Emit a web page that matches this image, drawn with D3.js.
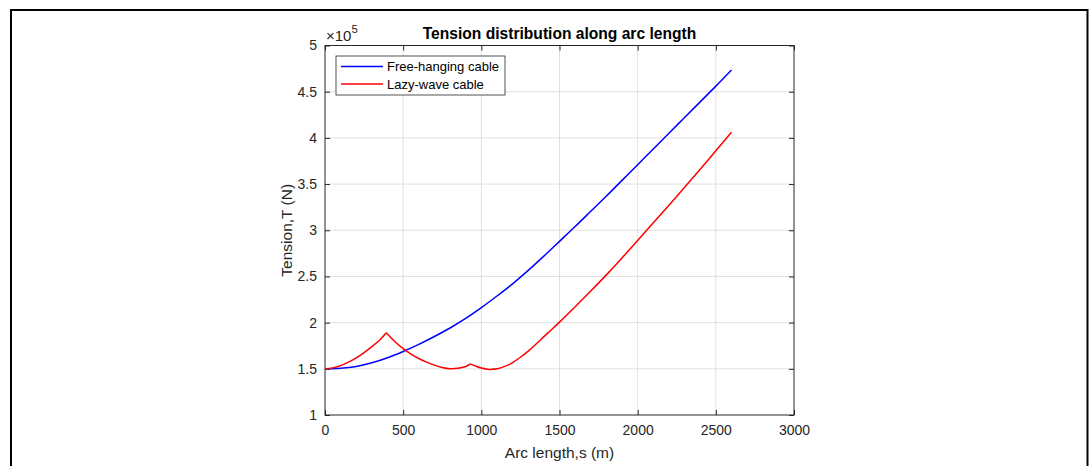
<!DOCTYPE html>
<html>
<head>
<meta charset="utf-8">
<script src="https://cdn.jsdelivr.net/npm/d3@7"></script>
<style>
  body { margin: 0; background: #fff; }
  svg { display: block; font-family: "Liberation Sans", Arial, sans-serif; }
</style>
</head>
<body>
<div id="chart"></div>
<script>
// valores (T em unidades de 1e5 N)
const arcFree = [0, 100, 200, 300, 400, 500, 600, 700, 800, 900, 1000, 1100, 1200, 1300,
  1400, 1500, 1600, 1700, 1800, 1900, 2000, 2100, 2200, 2300, 2400, 2500, 2600];
const tensionFree = [1.500, 1.506, 1.526, 1.565, 1.620, 1.688, 1.765, 1.850, 1.942, 2.045,
  2.162, 2.288, 2.420, 2.565, 2.720, 2.880, 3.040, 3.205, 3.370, 3.540, 3.710, 3.880,
  4.050, 4.220, 4.390, 4.560, 4.735];

const arcLazy = [0, 50, 100, 150, 200, 250, 300, 350, 392, 450, 500, 550, 600, 650, 700, 750,
  800, 850, 900, 930, 960, 1000, 1040, 1066, 1100, 1150, 1200, 1250, 1300, 1350, 1400, 1450,
  1500, 1600, 1700, 1800, 1900, 2000, 2100, 2200, 2300, 2400, 2500, 2600];
const tensionLazy = [1.500, 1.510, 1.535, 1.573, 1.618, 1.675, 1.740, 1.812, 1.891, 1.790,
  1.718, 1.660, 1.612, 1.572, 1.540, 1.515, 1.501, 1.505, 1.525, 1.553, 1.532, 1.508, 1.496,
  1.494, 1.500, 1.526, 1.568, 1.625, 1.692, 1.768, 1.848, 1.925, 2.005, 2.172, 2.342, 2.517,
  2.700, 2.890, 3.080, 3.270, 3.465, 3.660, 3.860, 4.060];
// pontos de quebra (picos) da curva lazy-wave
const lazyKinks = [392, 930];

const xTicks = [0, 500, 1000, 1500, 2000, 2500, 3000];
const yTicks = [1, 1.5, 2, 2.5, 3, 3.5, 4, 4.5, 5];
const seriesNames = ["Free-hanging cable", "Lazy-wave cable"];

const width = 1091, height = 466;
const margin = { left: 325, right: 297, top: 45.5, bottom: 51 };
const iw = width - margin.left - margin.right;
const ih = height - margin.top - margin.bottom;

const svg = d3.select("#chart").append("svg")
  .attr("width", width).attr("height", height);

// moldura externa
svg.append("path")
  .attr("d", `M11,${height + 5} L11,10 L1087.5,10 L1087.5,${height + 5}`)
  .attr("fill", "none").attr("stroke", "#000").attr("stroke-width", 2);

const x = d3.scaleLinear().domain([0, 3000]).range([0, iw]);
const y = d3.scaleLinear().domain([1, 5]).range([ih, 0]);

const g = svg.append("g").attr("transform", `translate(${margin.left},${margin.top})`);

// grade
g.append("g").selectAll("line").data(xTicks.slice(1, -1)).join("line")
  .attr("x1", d => x(d)).attr("x2", d => x(d)).attr("y1", 0).attr("y2", ih)
  .attr("stroke", "#dfdfdf").attr("stroke-width", 1);
g.append("g").selectAll("line").data(yTicks.slice(1, -1)).join("line")
  .attr("y1", d => y(d)).attr("y2", d => y(d)).attr("x1", 0).attr("x2", iw)
  .attr("stroke", "#dfdfdf").attr("stroke-width", 1);

// eixos (ticks para dentro, estilo MATLAB)
const axisColor = "#262626";
const tickLen = 5;
function styleAxis(sel, showText) {
  sel.select(".domain").remove();
  sel.selectAll(".tick line").attr("stroke", axisColor);
  sel.selectAll(".tick text").attr("fill", axisColor).style("font-size", "14px")
    .style("display", showText ? null : "none");
}
g.append("g").attr("transform", `translate(0,${ih})`)
  .call(d3.axisBottom(x).tickValues(xTicks).tickFormat(d3.format("d")).tickSizeInner(-tickLen).tickSizeOuter(0).tickPadding(10))
  .call(s => styleAxis(s, true));
g.append("g")
  .call(d3.axisTop(x).tickValues(xTicks).tickSizeInner(-tickLen).tickSizeOuter(0))
  .call(s => styleAxis(s, false));
g.append("g")
  .call(d3.axisLeft(y).tickValues(yTicks).tickFormat(d3.format("")).tickSizeInner(-tickLen).tickSizeOuter(0).tickPadding(8))
  .call(s => styleAxis(s, true));
g.append("g").attr("transform", `translate(${iw},0)`)
  .call(d3.axisRight(y).tickValues(yTicks).tickSizeInner(-tickLen).tickSizeOuter(0))
  .call(s => styleAxis(s, false));

g.append("rect").attr("width", iw).attr("height", ih)
  .attr("fill", "none").attr("stroke", axisColor).attr("stroke-width", 1);

// curvas: suavizadas por trecho, mantendo os picos angulosos
const line = d3.line().x(d => x(d[0])).y(d => y(d[1])).curve(d3.curveCatmullRom.alpha(0.5));
function splitAt(pts, kinks) {
  const parts = [];
  let cur = [];
  pts.forEach(p => {
    cur.push(p);
    if (kinks.includes(p[0])) { parts.push(cur); cur = [p]; }
  });
  if (cur.length > 1) parts.push(cur);
  return parts;
}
const freePts = arcFree.map((s, i) => [s, tensionFree[i]]);
const lazyPts = arcLazy.map((s, i) => [s, tensionLazy[i]]);

g.append("path").attr("d", line(freePts))
  .attr("fill", "none").attr("stroke", "#0000ff").attr("stroke-width", 1.5);
g.append("path").attr("d", splitAt(lazyPts, lazyKinks).map(line).join(""))
  .attr("fill", "none").attr("stroke", "#ff0000").attr("stroke-width", 1.5)
  .attr("stroke-linejoin", "miter");

// textos
g.append("text").attr("x", iw / 2).attr("y", -7).attr("text-anchor", "middle")
  .style("font-size", "15.6px").style("font-weight", "bold").attr("fill", "#000")
  .text("Tension distribution along arc length");
g.append("text").attr("x", iw / 2).attr("y", ih + 43).attr("text-anchor", "middle")
  .style("font-size", "15.5px").attr("fill", axisColor).text("Arc length,s (m)");
g.append("text").attr("transform", `translate(-33,${ih / 2}) rotate(-90)`).attr("text-anchor", "middle")
  .style("font-size", "15.5px").attr("fill", axisColor).text("Tension,T (N)");
const expo = g.append("text").attr("x", 1).attr("y", -5).attr("fill", axisColor).style("font-size", "15px");
expo.append("tspan").text("\u00d710");
expo.append("tspan").attr("dy", -8).style("font-size", "11.5px").text("5");

// legenda
const colors = ["#0000ff", "#ff0000"];
const leg = g.append("g").attr("transform", `translate(${336 - margin.left},${56 - margin.top})`);
leg.append("rect").attr("width", 169).attr("height", 39)
  .attr("fill", "#fff").attr("stroke", axisColor).attr("stroke-width", 0.8);
seriesNames.forEach((name, i) => {
  const ly = 10.5 + i * 17.5;
  leg.append("line").attr("x1", 5).attr("x2", 47).attr("y1", ly).attr("y2", ly)
    .attr("stroke", colors[i]).attr("stroke-width", 1.5);
  leg.append("text").attr("x", 51).attr("y", ly + 4.5).style("font-size", "13px")
    .attr("fill", "#000").text(name);
});
</script>
</body>
</html>
